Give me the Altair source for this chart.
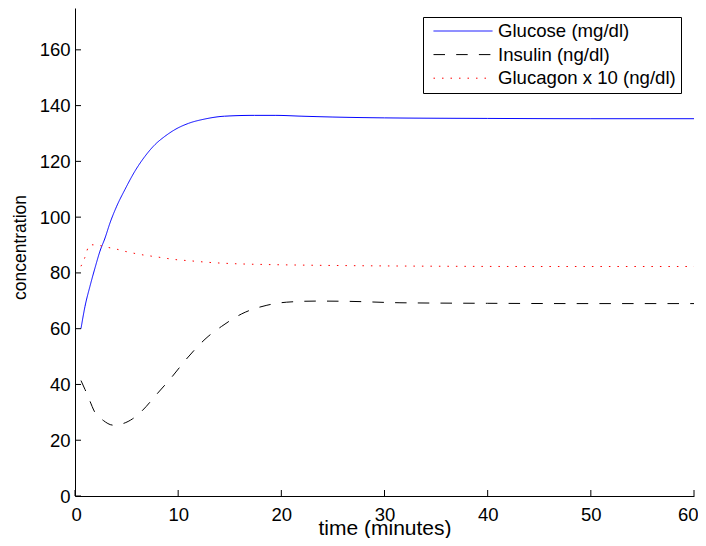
import altair as alt
import pandas as pd

# ---- data ----
glucose_t = [0.58, 0.97, 1.45, 1.94, 2.42, 2.91, 3.39, 4.04, 4.84, 5.81, 6.78, 7.75, 8.72,
             9.69, 10.98, 12.6, 14.5, 17.4, 19.4, 22, 25, 30, 40, 50, 60]
glucose_v = [60, 68.0, 75.2, 81.8, 87.8, 92.5, 97.9, 103.9, 109.9, 116.5, 121.8, 126.0, 129.0,
             131.4, 133.6, 135.2, 136.2, 136.5, 136.5, 136.2, 135.9, 135.6, 135.4, 135.3, 135.3]

insulin_t = [0.58, 0.97, 1.45, 1.87, 2.74, 3.71, 4.68, 5.59, 6.46, 7.9, 9.46, 10.75, 12.9,
             14.2, 16.15, 18.6, 20.5, 23.4, 26.6, 31.5, 40, 50, 60]
insulin_v = [41.4, 38.2, 34.0, 30.4, 27.1, 25.4, 26.0, 27.7, 30.4, 36.4, 43.0, 48.9, 57.2,
             60.8, 65.3, 68.4, 69.5, 69.9, 69.8, 69.3, 69.1, 69.0, 69.0]

glucagon_t = [0.58, 0.9, 1.45, 2.26, 3.13, 3.94, 4.78, 6.36, 8.0, 9.69, 11.3, 12.9, 15.5,
              18.7, 22, 27, 35, 45, 60]
glucagon_v = [82.4, 85.0, 90.1, 89.9, 89.2, 88.6, 87.8, 86.6, 85.7, 84.8, 84.3, 83.8, 83.3,
              83.0, 82.8, 82.6, 82.4, 82.3, 82.3]

series_names = ["Glucose (mg/dl)", "Insulin (ng/dl)", "Glucagon x 10 (ng/dl)"]
series_colors = ["#0000ff", "#000000", "#ff0000"]
series_dash = [[1, 0], [11.5, 11.2], [1.5, 7.0]]
series_width = [1, 1, 4]

x_ticks = [0, 10, 20, 30, 40, 50, 60]
y_ticks = [0, 20, 40, 60, 80, 100, 120, 140, 160]

rows = []
for name, ts, vs in zip(series_names,
                        [glucose_t, insulin_t, glucagon_t],
                        [glucose_v, insulin_v, glucagon_v]):
    for t, v in zip(ts, vs):
        rows.append({"t": t, "value": v, "series": name})
df = pd.DataFrame(rows)

FONT = "Liberation Sans"
W, H = 619, 488

xscale = alt.Scale(domain=[0, 60], nice=False, zero=False)
yscale = alt.Scale(domain=[0, 175], nice=False)
xaxis = alt.Axis(values=x_ticks, title="time (minutes)", titleFontSize=21,
                 titleY=32, titleBaseline="middle", labelPadding=9,
                 labelFlush=True, labelFlushOffset=4)
yaxis = alt.Axis(values=y_ticks, title="concentration", titleFontSize=17.5,
                 titleX=-55, titleY=239, titleBaseline="middle", labelPadding=5,
                 labelFlush=False)

width_expr = ("datum.value === '%s' ? %s : (datum.value === '%s' ? %s : %s)"
              % (series_names[2], series_width[2], series_names[1], series_width[1],
                 series_width[0]))

lines = alt.Chart(df).mark_line(interpolate="monotone", strokeCap="butt").encode(
    x=alt.X("t:Q", scale=xscale, axis=xaxis),
    y=alt.Y("value:Q", scale=yscale, axis=yaxis),
    color=alt.Color("series:N",
                    scale=alt.Scale(domain=series_names, range=series_colors),
                    legend=alt.Legend(title=None,
                                      symbolStrokeWidth=alt.ExprRef(width_expr))),
    strokeDash=alt.StrokeDash("series:N",
                              scale=alt.Scale(domain=series_names, range=series_dash),
                              legend=alt.Legend(title=None)),
    strokeWidth=alt.StrokeWidth("series:O",
                                scale=alt.Scale(domain=series_names, range=series_width),
                                legend=None),
)

xt = alt.Chart(pd.DataFrame({"t": x_ticks})).mark_rule(color="black", strokeWidth=1).encode(
    x=alt.X("t:Q", scale=xscale, axis=xaxis),
    y=alt.value(H),
    y2=alt.value(H - 6),
)
yt = alt.Chart(pd.DataFrame({"value": y_ticks})).mark_rule(color="black", strokeWidth=1).encode(
    y=alt.Y("value:Q", scale=yscale, axis=yaxis),
    x=alt.value(0),
    x2=alt.value(6),
)

chart = alt.layer(lines, xt, yt).properties(
    width=W, height=H,
    autosize=alt.AutoSizeParams(type="none"),
    padding={"left": 67, "top": 0, "right": 4, "bottom": 42},
).configure_view(stroke=None).configure_axis(
    grid=False, ticks=False, domainColor="black", domainWidth=1,
    labelColor="black", titleColor="black", labelFont=FONT, titleFont=FONT,
    labelFontSize=18.5, titleFontWeight="normal",
).configure_legend(
    orient="none", legendX=348, legendY=9,
    strokeColor="black", fillColor="white", padding=5, symbolOffset=5,
    labelFont=FONT, labelFontSize=18.6, labelColor="black", labelOffset=5,
    symbolType="stroke", symbolSize=3481, clipHeight=18, rowPadding=4.6,
    cornerRadius=0, labelLimit=400,
)

chart.save("out.html", embed_options={"renderer": "svg", "actions": False})
